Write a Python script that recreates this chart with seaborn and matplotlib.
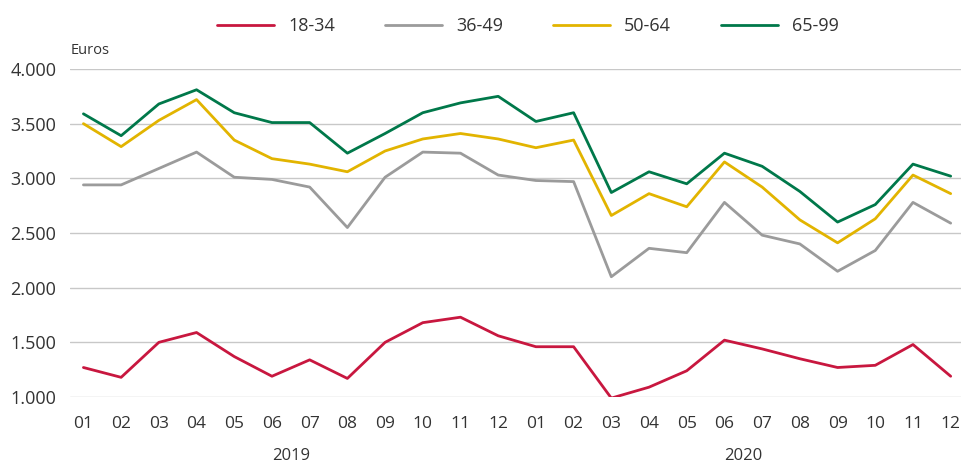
import numpy as np
import pandas as pd
import matplotlib
matplotlib.use("Agg")
import matplotlib.pyplot as plt
import matplotlib.transforms as mtransforms
import seaborn as sns

# ========== 数据 ==========
months = ['01', '02', '03', '04', '05', '06', '07', '08', '09', '10', '11', '12'] * 2
years = ['2019', '2020']
groups = ['18-34', '36-49', '50-64', '65-99']

v_18_34 = [1270, 1180, 1500, 1590, 1370, 1190, 1340, 1170, 1500, 1680, 1730, 1560,
           1460, 1460, 990, 1090, 1240, 1520, 1440, 1350, 1270, 1290, 1480, 1190]
v_36_49 = [2940, 2940, 3090, 3240, 3010, 2990, 2920, 2550, 3010, 3240, 3230, 3030,
           2980, 2970, 2100, 2360, 2320, 2780, 2480, 2400, 2150, 2340, 2780, 2590]
v_50_64 = [3500, 3290, 3530, 3720, 3350, 3180, 3130, 3060, 3250, 3360, 3410, 3360,
           3280, 3350, 2660, 2860, 2740, 3150, 2920, 2620, 2410, 2630, 3030, 2860]
v_65_99 = [3590, 3390, 3680, 3810, 3600, 3510, 3510, 3230, 3410, 3600, 3690, 3750,
           3520, 3600, 2870, 3060, 2950, 3230, 3110, 2880, 2600, 2760, 3130, 3020]

colors = ['#C8173F', '#9B9B9B', '#E2B400', '#00784A']

# 长表
series = [v_18_34, v_36_49, v_50_64, v_65_99]
rows = []
for g, vals in zip(groups, series):
    for i, v in enumerate(vals):
        rows.append({'idx': i, 'Euros': v, 'Grupo': g})
df = pd.DataFrame(rows)

# ========== 绘图 ==========
sns.set_style('white')
plt.rcParams['font.family'] = ['Open Sans', 'DejaVu Sans']
text_color = '#333333'

fig = plt.figure(figsize=(9.62, 4.63), dpi=100)
ax = fig.add_axes([0.073, 0.1425, 0.927, 0.7085])

sns.lineplot(data=df, x='idx', y='Euros', hue='Grupo', hue_order=groups,
             palette=colors, linewidth=2.0, ax=ax)

ax.set_ylim(1000, 4000)
ax.set_xlim(-0.35, 23.3)
ax.set_yticks([1000, 1500, 2000, 2500, 3000, 3500, 4000])
ax.set_yticklabels([f'{int(t):,}'.replace(',', '.') for t in ax.get_yticks()])
ax.set_xticks(range(24))
ax.set_xticklabels(months)
ax.tick_params(axis='both', length=0, labelsize=13, colors=text_color)
ax.tick_params(axis='x', pad=14, labelsize=12.5)
ax.tick_params(axis='y', pad=10)
ax.grid(axis='y', color='#C8C8C8', linewidth=1)
ax.set_axisbelow(True)
for s in ax.spines.values():
    s.set_visible(False)
ax.set_xlabel('')
ax.set_ylabel('')

# 年份标签
trans = mtransforms.blended_transform_factory(ax.transData, ax.transAxes)
ax.text(5.5, -0.155, years[0], transform=trans, ha='center', va='top', fontsize=12, color=text_color)
ax.text(17.5, -0.155, years[1], transform=trans, ha='center', va='top', fontsize=12, color=text_color)

# 单位
fig.text(0.073, 0.89, 'Euros', ha='left', va='center', fontsize=10.5, color=text_color)

# 图例
ax.legend(loc='center', bbox_to_anchor=(0.513, 1.13), ncol=4, frameon=False,
          fontsize=13, handlelength=3.2, handletextpad=0.75, columnspacing=2.75,
          labelcolor=text_color)
for line in ax.get_legend().get_lines():
    line.set_linewidth(2.0)

plt.savefig('out.png', dpi=100)
